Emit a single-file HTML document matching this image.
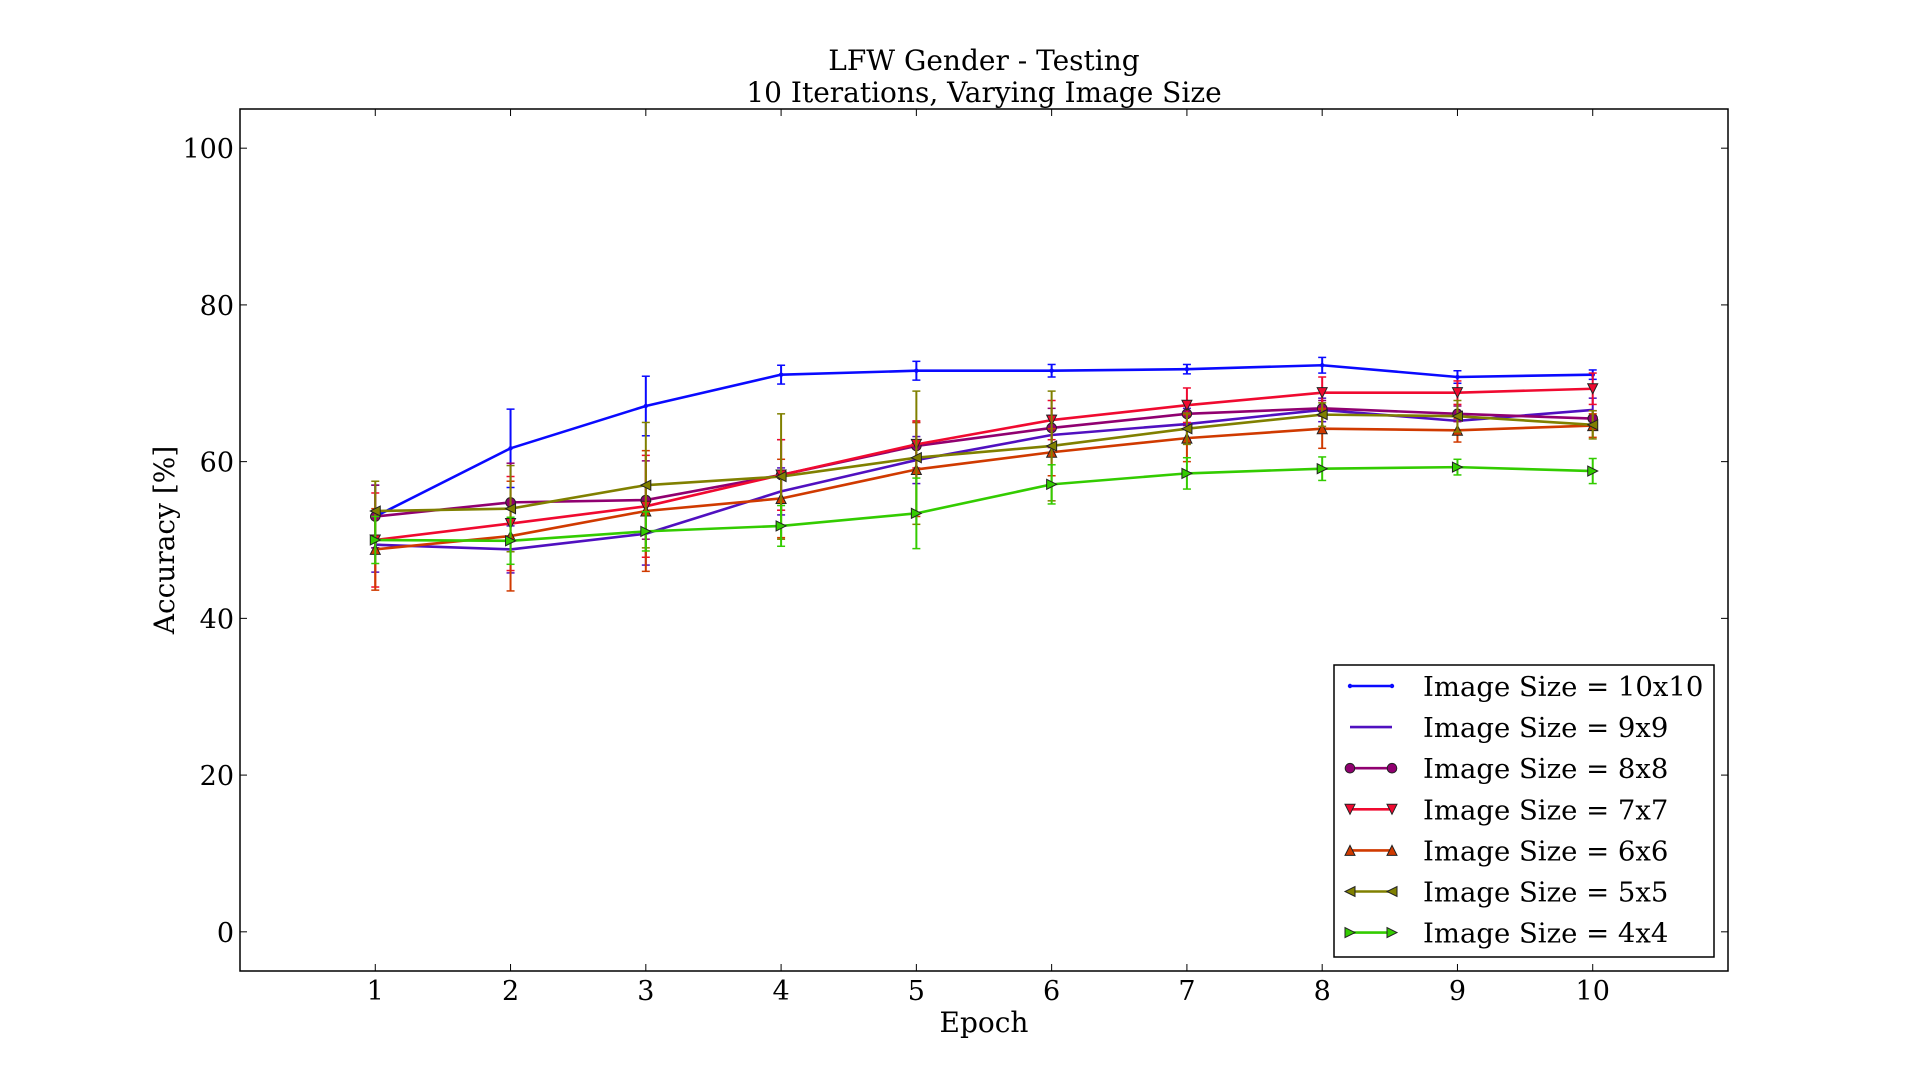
<!DOCTYPE html>
<html><head><meta charset="utf-8">
<style>
html,body{margin:0;padding:0;background:#fff;width:1920px;height:1080px;overflow:hidden}
svg text{font-family:"DejaVu Serif","Liberation Serif",serif;fill:#000}
</style></head>
<body>
<svg id="chart" width="1920" height="1080" xmlns="http://www.w3.org/2000/svg">
<text x="984" y="70" font-size="28" text-anchor="middle">LFW Gender - Testing</text>
<text x="984" y="102" font-size="28" text-anchor="middle">10 Iterations, Varying Image Size</text>
<text x="984" y="1032" font-size="28" text-anchor="middle">Epoch</text>
<text x="174" y="540" font-size="28" text-anchor="middle" transform="rotate(-90 174 540)">Accuracy [%]</text>
<g id="grid"></g>
<g id="series"></g>
<rect x="240" y="109" width="1488" height="862" fill="none" stroke="#000" stroke-width="1.5"/>
<g id="legend"></g>
</svg>
<script>
const epochs = [1,2,3,4,5,6,7,8,9,10];
const xTicks = [1,2,3,4,5,6,7,8,9,10];
const yTicks = [0,20,40,60,80,100];
const seriesNames = ["Image Size = 10x10","Image Size = 9x9","Image Size = 8x8","Image Size = 7x7","Image Size = 6x6","Image Size = 5x5","Image Size = 4x4"];
const acc10 = [53.0,61.7,67.1,71.1,71.6,71.6,71.8,72.3,70.8,71.1];
const err10 = [4.0,5.0,3.8,1.2,1.2,0.8,0.6,1.0,0.8,0.6];
const acc9 = [49.4,48.8,50.8,56.2,60.2,63.4,64.8,66.6,65.2,66.6];
const err9 = [3.5,3.0,4.0,3.0,3.0,2.5,2.0,1.5,1.2,1.5];
const acc8 = [53.0,54.8,55.1,58.3,62.0,64.3,66.1,66.8,66.1,65.5];
const err8 = [4.0,5.0,5.0,4.5,3.0,2.5,1.5,1.0,1.0,1.0];
const acc7 = [50.0,52.1,54.3,58.3,62.2,65.3,67.2,68.8,68.8,69.3];
const err7 = [6.0,6.0,6.5,4.5,3.0,2.5,2.2,2.0,1.5,2.0];
const acc6 = [48.8,50.5,53.7,55.3,59.0,61.2,63.0,64.2,64.0,64.6];
const err6 = [5.2,7.0,7.7,5.0,6.0,3.0,3.0,2.5,1.5,1.5];
const acc5 = [53.7,54.0,57.0,58.1,60.5,62.0,64.2,66.0,65.8,64.7];
const err5 = [3.8,5.5,8.0,8.0,8.5,7.0,2.0,1.5,2.0,1.8];
const acc4 = [50.0,49.9,51.1,51.8,53.4,57.1,58.5,59.1,59.3,58.8];
const err4 = [3.0,3.0,2.5,2.6,4.5,2.5,2.0,1.5,1.0,1.6];

const allAcc=[acc10,acc9,acc8,acc7,acc6,acc5,acc4];
const allErr=[err10,err9,err8,err7,err6,err5,err4];
const colors=["#0a0aff","#5010c0","#900070","#f00a30","#d03a00","#808000","#33cc00"];
const markers=["point","none","circle","tri-down","tri-up","tri-left","tri-right"];

const L=240,R=1728,T=109,B=971;
const xS=v=>L+(v-0)/(11-0)*(R-L);
const yS=v=>B-(v+5)/(110)*(B-T);
const NS="http://www.w3.org/2000/svg";
function mk(tag,attrs,parent){const e=document.createElementNS(NS,tag);for(const k in attrs)e.setAttribute(k,attrs[k]);parent.appendChild(e);return e;}

const grid=document.getElementById('grid');
xTicks.forEach(t=>{
  const x=xS(t);
  const a=mk('line',{x1:x,x2:x,y1:B,y2:B-7,stroke:'#000','stroke-width':1},grid);
  
  const b=mk('line',{x1:x,x2:x,y1:T,y2:T+7,stroke:'#000','stroke-width':1},grid);
  
  const tx=mk('text',{x:x,y:1000,'font-size':27,'text-anchor':'middle'},grid);
  tx.textContent=t;
  
  
});
yTicks.forEach(t=>{
  const y=yS(t);
  const a=mk('line',{x1:L,x2:L+7,y1:y,y2:y,stroke:'#000','stroke-width':1},grid);
  
  const b=mk('line',{x1:R,x2:R-7,y1:y,y2:y,stroke:'#000','stroke-width':1},grid);
  
  const tx=mk('text',{x:234,y:y+10,'font-size':27,'text-anchor':'end'},grid);
  tx.textContent=t;
  
  
});

function marker(type,x,y,c,parent){
  const s=5;let e=null;
  if(type==='circle') e=mk('circle',{cx:x,cy:y,r:4.8,fill:c,stroke:'#222','stroke-width':1},parent);
  else if(type==='point') e=mk('circle',{cx:x,cy:y,r:2.2,fill:c},parent);
  else if(type==='tri-down') e=mk('polygon',{points:`${x-s},${y-s} ${x+s},${y-s} ${x},${y+s}`,fill:c,stroke:'#222','stroke-width':1},parent);
  else if(type==='tri-up') e=mk('polygon',{points:`${x-s},${y+s} ${x+s},${y+s} ${x},${y-s}`,fill:c,stroke:'#222','stroke-width':1},parent);
  else if(type==='tri-left') e=mk('polygon',{points:`${x+s},${y-s} ${x+s},${y+s} ${x-s},${y}`,fill:c,stroke:'#222','stroke-width':1},parent);
  else if(type==='tri-right') e=mk('polygon',{points:`${x-s},${y-s} ${x-s},${y+s} ${x+s},${y}`,fill:c,stroke:'#222','stroke-width':1},parent);
  return e;
}

const sg=document.getElementById('series');
allAcc.forEach((arr,i)=>{
  const g=mk('g',{},sg);
  
  
  arr.forEach((v,j)=>{
    const x=xS(epochs[j]),e=allErr[i][j];
    const y1=yS(v-e),y2=yS(v+e);
    const eb=mk('line',{x1:x,x2:x,y1:y1,y2:y2,stroke:colors[i],'stroke-width':2},g);
    
    
    mk('line',{x1:x-4,x2:x+4,y1:y1,y2:y1,stroke:colors[i],'stroke-width':1.5},g);
    mk('line',{x1:x-4,x2:x+4,y1:y2,y2:y2,stroke:colors[i],'stroke-width':1.5},g);
  });
  const pts=arr.map((v,j)=>xS(epochs[j])+','+yS(v)).join(' ');
  const pl=mk('polyline',{points:pts,fill:'none',stroke:colors[i],'stroke-width':2.6,'stroke-linejoin':'round'},g);
  
  
  arr.forEach((v,j)=>{
    const m=marker(markers[i],xS(epochs[j]),yS(v),colors[i],g);
    if(m){
    }
  });
});

const lg=document.getElementById('legend');
const box=mk('rect',{x:1334,y:665,width:380,height:292,fill:'#fff',stroke:'#000','stroke-width':1.5},lg);


seriesNames.forEach((n,i)=>{
  const y=686+i*41.1;
  const g=mk('g',{},lg);
  
  
  mk('line',{x1:1350,x2:1392,y1:y,y2:y,stroke:colors[i],'stroke-width':2.6},g);
  if(markers[i]!=='none'){marker(markers[i],1350,y,colors[i],g);marker(markers[i],1392,y,colors[i],g);}
  const t=mk('text',{x:1423,y:y+10,'font-size':27.5},g);
  t.textContent=n;
});
</script>
</body></html>
